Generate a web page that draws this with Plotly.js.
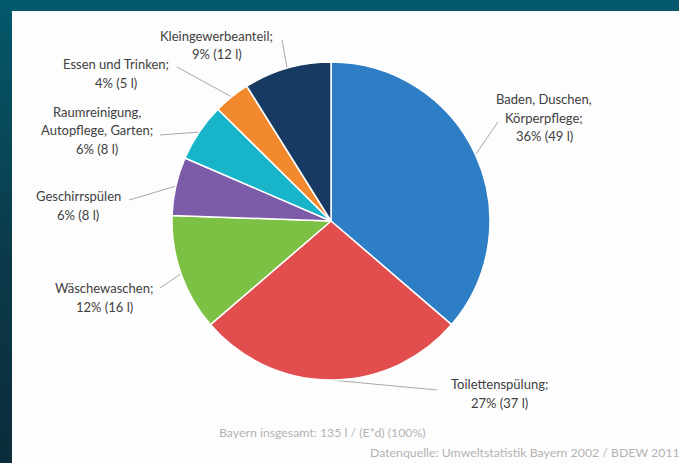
<!DOCTYPE html>
<html>
<head>
<meta charset="utf-8">
<script src="https://cdn.plot.ly/plotly-3.0.1.min.js"></script>
<style>
  html, body { margin: 0; padding: 0; }
  body { width: 679px; height: 463px; overflow: hidden; position: relative;
         background: linear-gradient(to bottom, #03596b 0%, #0b3a4a 55%, #0b2c3b 100%); }
  #panel { position: absolute; left: 12px; top: 11px; width: 667px; height: 452px; background: #fdfdfd; }
  #chart { position: absolute; left: 0; top: 0; width: 679px; height: 463px; }
</style>
</head>
<body>
<div id="panel"></div>
<div id="chart"></div>
<script>
// ---- data ----
const categories = ["Baden, Duschen, Körperpflege", "Toilettenspülung", "Wäschewaschen",
  "Geschirrspülen", "Raumreinigung, Autopflege, Garten", "Essen und Trinken", "Kleingewerbeanteil"];
const litres = [49, 37, 16, 8, 8, 5, 12];
const percents = [36, 27, 12, 6, 6, 4, 9];
const labelNameLines = [
  ["Baden, Duschen,", "Körperpflege;"],
  ["Toilettenspülung;"],
  ["Wäschewaschen;"],
  ["Geschirrspülen"],
  ["Raumreinigung,", "Autopflege, Garten;"],
  ["Essen und Trinken;"],
  ["Kleingewerbeanteil;"]
];
const colors = ["#2E7EC5", "#E24E4E", "#7DC144", "#7C5CA8", "#17B4CA", "#F28A2D", "#173A62"];
const totalText = "Bayern insgesamt: 135 l / (E*d) (100%)";
const sourceText = "Datenquelle: Umweltstatistik Bayern 2002 / BDEW 2011";

// ---- layout (pixels) ----
const W = 679, H = 463;
const pieBox = { left: 172, right: 490, top: 62, bottom: 380 };
const labelPos = [[544, 99], [499, 384], [104, 288], [78, 196], [97, 112], [116, 64], [217, 36]];
const leaderFrom = [[498, 122], [437, 390], [160, 288], [129, 200], [160, 135], [177, 67], [282, 40]];
const lineH = 18.5;

const px = x => x / W, py = y => 1 - y / H;

const cx = (pieBox.left + pieBox.right) / 2, cy = (pieBox.top + pieBox.bottom) / 2;
const R = (pieBox.right - pieBox.left) / 2;
const total = litres.reduce((a, b) => a + b, 0);

const annotations = [];
const shapes = [];
let cum = 0;
litres.forEach((v, i) => {
  const mid = (cum + v / 2) / total * 2 * Math.PI;
  cum += v;
  const tx = cx + R * Math.sin(mid), ty = cy - R * Math.cos(mid);
  shapes.push({ type: "line", xref: "paper", yref: "paper",
    x0: px(leaderFrom[i][0]), y0: py(leaderFrom[i][1]), x1: px(tx), y1: py(ty),
    line: { color: "#a8a8a8", width: 1 }, layer: "below" });
  const lines = labelNameLines[i].concat([percents[i] + "% (" + v + " l)"]);
  lines.forEach((t, k) => {
    annotations.push({ xref: "paper", yref: "paper", x: px(labelPos[i][0]), y: py(labelPos[i][1] + k * lineH),
      xanchor: "center", yanchor: "middle", showarrow: false, text: t,
      font: { family: "Lato, 'Open Sans', sans-serif", size: 13, color: "#404040" } });
  });
});
annotations.push({ xref: "paper", yref: "paper", x: px(217), y: py(432), xanchor: "left", yanchor: "middle",
  showarrow: false, text: totalText, font: { family: "Lato, sans-serif", size: 12.3, color: "#b3b3b3" } });
annotations.push({ xref: "paper", yref: "paper", x: px(368), y: py(452), xanchor: "left", yanchor: "middle",
  showarrow: false, text: sourceText, font: { family: "Lato, sans-serif", size: 12.3, color: "#b3b3b3" } });

const trace = {
  type: "pie", labels: categories, values: litres, sort: false, direction: "clockwise", rotation: 0,
  textinfo: "none", hoverinfo: "none",
  marker: { colors: colors, line: { color: "#ffffff", width: 1.5 } },
  domain: { x: [px(pieBox.left), px(pieBox.right)], y: [py(pieBox.bottom), py(pieBox.top)] }
};

Plotly.newPlot("chart", [trace], {
  width: W, height: H, margin: { l: 0, r: 0, t: 0, b: 0 },
  paper_bgcolor: "rgba(0,0,0,0)", plot_bgcolor: "rgba(0,0,0,0)",
  showlegend: false, annotations: annotations, shapes: shapes
}, { displayModeBar: false, staticPlot: true });
</script>
</body>
</html>
